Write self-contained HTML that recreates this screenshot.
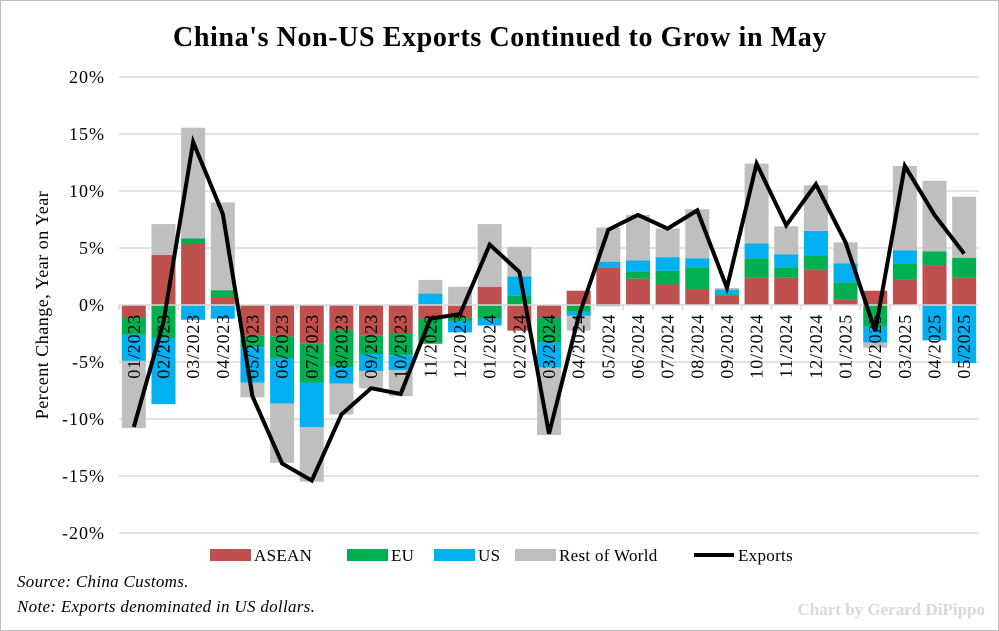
<!DOCTYPE html>
<html><head><meta charset="utf-8"><style>
body{margin:0;background:#fff}
#wrap{position:relative;width:997px;height:629px;border:1px solid #bfbfbf;background:#fff;overflow:hidden}
svg{position:absolute;left:0;top:0}
</style></head><body>
<div id="wrap">
<svg id="chart" width="999" height="631"></svg>
</div>
<script>
const months=["01/2023","02/2023","03/2023","04/2023","05/2023","06/2023","07/2023","08/2023","09/2023","10/2023","11/2023","12/2023","01/2024","02/2024","03/2024","04/2024","05/2024","06/2024","07/2024","08/2024","09/2024","10/2024","11/2024","12/2024","01/2025","02/2025","03/2025","04/2025","05/2025"];
const asean=[-1.1,4.4,5.35,0.7,-2.7,-2.75,-3.4,-2.2,-2.7,-2.5,-1.2,-1.1,1.6,-2.25,-1.1,1.25,3.3,2.3,1.8,1.4,0.8,2.4,2.4,3.1,0.45,1.25,2.2,3.5,2.4];
const eu=[-1.5,-2.9,0.5,0.6,-1.0,-1.9,-3.4,-3.2,-1.6,-1.9,-2.2,-0.3,-1.2,0.8,-2.2,-0.6,-0.1,0.6,1.2,1.9,0.15,1.7,0.9,1.2,1.55,-1.9,1.4,1.2,1.75];
const us=[-2.3,-5.8,-1.3,-1.2,-3.1,-4.0,-3.9,-1.5,-1.5,-1.3,1.0,-1.0,-0.6,1.7,-2.2,-0.35,0.5,1.0,1.2,0.8,0.4,1.3,1.15,2.2,1.65,-1.4,1.2,-3.1,-5.1];
const rest=[-5.9,2.7,9.7,7.7,-1.3,-5.2,-4.8,-2.7,-1.5,-2.3,1.2,1.6,5.5,2.6,-5.9,-1.3,3.0,4.0,2.5,4.3,0.15,7.0,2.45,4.0,1.85,-0.45,7.4,6.2,5.35];
const exportsYoY=[-10.7,-1.5,14.3,8.0,-8.0,-13.9,-15.4,-9.6,-7.3,-7.8,-1.2,-0.8,5.3,2.9,-11.3,-1.0,6.6,7.9,6.7,8.3,1.5,12.4,7.0,10.6,5.5,-2.3,12.2,7.9,4.5];
const yTicks=[20,15,10,5,0,-5,-10,-15,-20];

const NS="http://www.w3.org/2000/svg";
const svg=document.getElementById('chart');
function mk(t,a,p){const e=document.createElementNS(NS,t);for(const k in a)e.setAttribute(k,a[k]);(p||svg).appendChild(e);return e;}
const x0=118,x1=978,yTop=76,yBot=532,vMax=20,vMin=-20;
const y=v=>yTop+(vMax-v)/(vMax-vMin)*(yBot-yTop);
const step=(x1-x0)/months.length;
const xc=i=>x0+step*(i+0.5);
const bw=24;
const font='"Liberation Serif", serif';

let t=mk('text',{x:499,y:45,'text-anchor':'middle','font-family':font,'font-size':28,'font-weight':'bold','letter-spacing':0.6,fill:'#000'});
t.textContent="China's Non-US Exports Continued to Grow in May";



yTicks.forEach(v=>{
  if(v!==0){const g=mk('line',{x1:x0,x2:x1,y1:y(v),y2:y(v),stroke:'#d9d9d9','stroke-width':1.5});
  
  }
  const l=mk('text',{x:104,y:y(v)+6,'text-anchor':'end','font-family':font,'font-size':18,'letter-spacing':1,fill:'#000'});
  l.textContent=v+'%';
  
  
});
let yt=mk('text',{transform:'translate(47,304) rotate(-90)','text-anchor':'middle','font-family':font,'font-size':18,'letter-spacing':0.5,fill:'#000'});
yt.textContent='Percent Change, Year on Year';



const series=[[asean,'#c0504d','asean'],[eu,'#00b050','eu'],[us,'#00b0f0','us'],[rest,'#bfbfbf','rest-of-world']];
months.forEach((m,i)=>{
  let pos=0,neg=0;
  series.forEach(([arr,c,n])=>{
    const v=arr[i];let a,b;
    if(v>=0){a=pos;b=pos+v;pos=b;}else{a=neg;b=neg+v;neg=b;}
    const r=mk('rect',{x:xc(i)-bw/2,y:Math.min(y(a),y(b)),width:bw,height:Math.abs(y(a)-y(b)),fill:c});
    
    
  });
});
let ax=mk('line',{x1:x0,x2:x1,y1:y(0),y2:y(0),stroke:'#d9d9d9','stroke-width':1.5});


months.forEach((m,i)=>{
  const tk=mk('line',{x1:x0+step*i,x2:x0+step*i,y1:y(0),y2:y(0)+5,stroke:'#d9d9d9','stroke-width':1.5});
  
  
  const l=mk('text',{transform:`translate(${xc(i)+6},${y(0)+9}) rotate(-90)`,'text-anchor':'end','font-family':font,'font-size':18,'letter-spacing':0.8,fill:'#000'});
  l.textContent=m;
  
  
});
const ln=mk('polyline',{points:exportsYoY.map((v,i)=>xc(i)+','+y(v)).join(' '),fill:'none',stroke:'#000','stroke-width':4,'stroke-linejoin':'miter'});



const leg=[['ASEAN','#c0504d',209],['EU','#00b050',346],['US','#00b0f0',433],['Rest of World','#bfbfbf',514]];
leg.forEach(([n,c,x])=>{
  const r=mk('rect',{x:x,y:548,width:41,height:12,fill:c});
  
  
  const tx=mk('text',{x:x+44,y:560,'font-family':font,'font-size':17,'letter-spacing':0.3,fill:'#000'});
  tx.textContent=n;
  
  
});
const ll=mk('line',{x1:693,x2:733,y1:554,y2:554,stroke:'#000','stroke-width':4});


const lt=mk('text',{x:737,y:560,'font-family':font,'font-size':17,'letter-spacing':0.3,fill:'#000'});
lt.textContent='Exports';



const s1=mk('text',{x:16,y:586,'font-family':font,'font-size':17,'font-style':'italic','letter-spacing':0.3,fill:'#000'});
s1.textContent='Source: China Customs.';


const s2=mk('text',{x:16,y:611,'font-family':font,'font-size':17,'font-style':'italic','letter-spacing':0.3,fill:'#000'});
s2.textContent='Note: Exports denominated in US dollars.';


const wm=mk('text',{x:984,y:614,'text-anchor':'end','font-family':font,'font-size':17,'font-weight':'bold',fill:'#d9d9d9'});
wm.textContent='Chart by Gerard DiPippo';


</script>
</body></html>
